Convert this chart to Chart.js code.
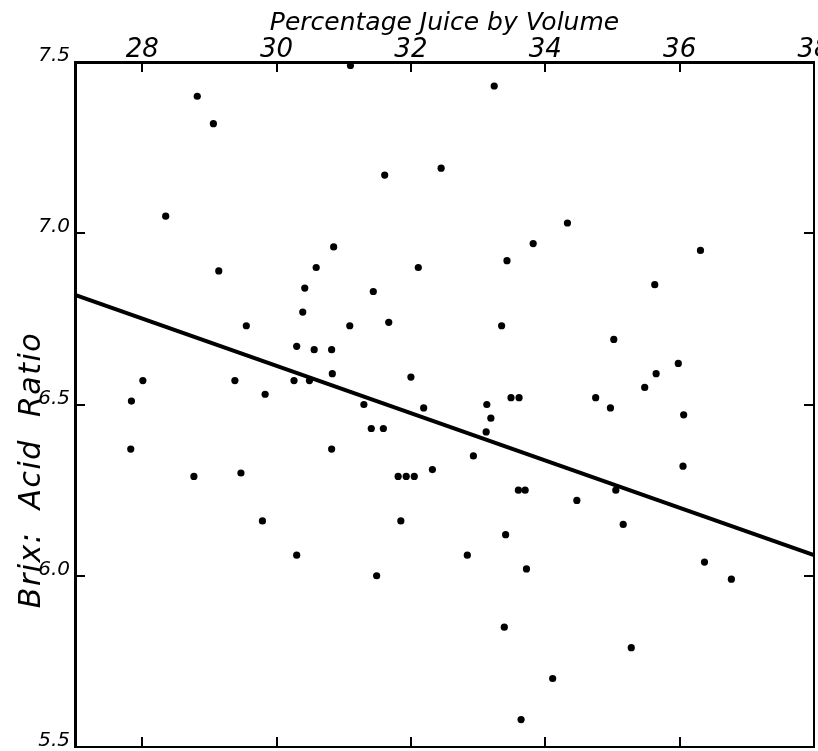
<!DOCTYPE html>
<html>
<head>
<meta charset="utf-8">
<script src="https://cdn.jsdelivr.net/npm/chart.js@4.4.0/dist/chart.umd.min.js"></script>
<style>
  body { margin: 0; background: #fff; }
  #wrap { width: 818px; height: 751px; }
</style>
</head>
<body>
<div id="wrap"><canvas id="myChart" width="818" height="751"></canvas></div>
<script>
// percentage juice by volume (x) and brix:acid ratio (y) for each sample
const juicePct = [27.84, 28.01, 27.83, 28.35, 28.82, 29.06, 29.14, 28.77, 29.38, 29.55,
  29.47, 29.83, 29.79, 30.30, 30.26, 30.39, 30.42, 30.56, 30.49, 30.59,
  30.30, 30.85, 30.82, 30.83, 30.82, 31.09, 31.10, 31.30, 31.41, 31.44,
  31.59, 31.61, 31.67, 31.49, 31.81, 31.93, 32.05, 31.85, 32.00, 32.11,
  32.19, 32.32, 32.45, 32.93, 32.84, 33.12, 33.13, 33.19, 33.24, 33.35,
  33.43, 33.49, 33.61, 33.41, 33.39, 33.60, 33.70, 33.72, 33.82, 33.64,
  34.33, 34.11, 34.47, 34.75, 34.97, 35.02, 35.05, 35.16, 35.28, 35.48,
  35.63, 35.65, 35.98, 36.06, 36.05, 36.31, 36.37, 36.77];
const brixAcid = [6.51, 6.57, 6.37, 7.05, 7.40, 7.32, 6.89, 6.29, 6.57, 6.73,
  6.30, 6.53, 6.16, 6.67, 6.57, 6.77, 6.84, 6.66, 6.57, 6.90,
  6.06, 6.96, 6.66, 6.59, 6.37, 6.73, 7.49, 6.50, 6.43, 6.83,
  6.43, 7.17, 6.74, 6.00, 6.29, 6.29, 6.29, 6.16, 6.58, 6.90,
  6.49, 6.31, 7.19, 6.35, 6.06, 6.42, 6.50, 6.46, 7.43, 6.73,
  6.92, 6.52, 6.52, 6.12, 5.85, 6.25, 6.25, 6.02, 6.97, 5.58,
  7.03, 5.70, 6.22, 6.52, 6.49, 6.69, 6.25, 6.15, 5.79, 6.55,
  6.85, 6.59, 6.62, 6.47, 6.32, 6.95, 6.04, 5.99];

// fitted regression line end points
const fitX = [27, 38];
const fitY = [6.82, 6.06];

const xTicks = [28, 30, 32, 34, 36, 38];
const yTicks = [5.5, 6.0, 6.5, 7.0, 7.5];

const points = juicePct.map((x, i) => ({ x: x, y: brixAcid[i] }));
const fitLine = fitX.map((x, i) => ({ x: x, y: fitY[i] }));

const setTicks = (vals) => (scale) => { scale.ticks = vals.map(v => ({ value: v })); };

// fixed box sizes, no extra room for labels spilling past the ends
const fixSize = (w, h) => (s) => {
  if (w !== null) s.width = w;
  if (h !== null) s.height = h;
  s.paddingLeft = 0; s.paddingRight = 0; s.paddingTop = 0; s.paddingBottom = 0;
};

const yTitle = {
  id: 'yTitle',
  afterDraw(chart) {
    const c = chart.ctx;
    c.save();
    c.translate(32, 470);
    c.rotate(-Math.PI / 2);
    c.font = 'italic 30px "DejaVu Sans"';
    c.letterSpacing = '1.5px';
    c.textAlign = 'center';
    c.textBaseline = 'middle';
    c.fillStyle = '#000';
    c.fillText('Brix:  Acid  Ratio', 0, 0);
    c.restore();
  }
};

const edge = {
  border: { display: true, color: '#000', width: 3 },
  grid: { display: true, drawOnChartArea: false, drawTicks: true, tickLength: -10, color: '#000', lineWidth: 2 }
};

const ctx = document.getElementById('myChart');

new Chart(ctx, {
  data: {
    datasets: [{
      type: 'scatter',
      data: points,
      backgroundColor: '#000',
      borderWidth: 0,
      pointRadius: 3.6,
      xAxisID: 'x',
      yAxisID: 'y'
    }, {
      type: 'line',
      data: fitLine,
      borderColor: '#000',
      borderWidth: 4,
      pointRadius: 0,
      fill: false,
      xAxisID: 'x',
      yAxisID: 'y'
    }]
  },
  options: {
    responsive: false,
    animation: false,
    layout: { padding: { left: 0, right: 1, top: 0, bottom: 1 } },
    plugins: { legend: { display: false }, tooltip: { enabled: false } },
    scales: {
      x: {
        type: 'linear', position: 'top', min: 27, max: 38,
        ...edge,
        afterBuildTicks: setTicks(xTicks),
        afterFit: fixSize(null, 62),
        ticks: {
          color: '#000', padding: 9, maxRotation: 0, autoSkip: false,
          font: { family: 'DejaVu Sans', size: 26, style: 'italic', lineHeight: 1 }
        },
        title: {
          display: true, text: 'Percentage Juice by Volume', color: '#000',
          padding: { top: 8, bottom: 0 },
          font: { family: 'DejaVu Sans', size: 25, style: 'italic' }
        }
      },
      x2: {
        type: 'linear', position: 'bottom', min: 27, max: 38,
        ...edge,
        border: { display: true, color: '#000', width: 2 },
        afterBuildTicks: setTicks(xTicks),
        afterFit: fixSize(null, 0),
        ticks: { display: false }
      },
      y: {
        type: 'linear', position: 'left', min: 5.5, max: 7.5,
        ...edge,
        afterBuildTicks: setTicks(yTicks),
        afterFit: fixSize(75, null),
        ticks: {
          color: '#000', padding: 15, labelOffset: -6,
          callback: (v) => v.toFixed(1),
          font: { family: 'DejaVu Sans', size: 20, style: 'italic' }
        }
      },
      y2: {
        type: 'linear', position: 'right', min: 5.5, max: 7.5,
        ...edge,
        border: { display: true, color: '#000', width: 2 },
        afterBuildTicks: setTicks(yTicks),
        afterFit: fixSize(0, null),
        ticks: { display: false }
      }
    }
  },
  plugins: [yTitle]
});
</script>
</body>
</html>
